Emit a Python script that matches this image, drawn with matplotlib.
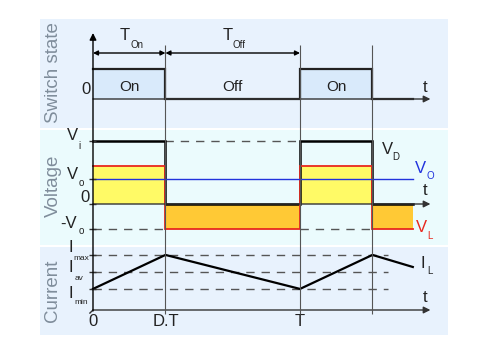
import matplotlib
matplotlib.use("Agg")
import matplotlib.pyplot as plt
import numpy as np

plt.rcParams['font.family'] = ['Liberation Sans', 'DejaVu Sans']

# ---- data ----
D = 0.35            # duty cycle (fraction of period T)
T_END = 1.545       # end of drawn waveforms (in periods)
T_ARROW = 1.63      # end of time axis arrow
VI = 1.0
VO = 0.4
IMIN, IAV, IMAX = 0.62, 1.12, 1.62
I_END = 1.265

switch_t = [0, D, D, 1, 1, 1 + D, 1 + D, T_END]
switch_v = [1, 1, 0, 0, 1, 1, 0, 0]
vd_t = [0, D, D, 1, 1, 1 + D, 1 + D, T_END]
vd_v = [VI, VI, 0, 0, VI, VI, 0, 0]
vl_t = [0, D, D, 1, 1, 1 + D, 1 + D, T_END]
vl_v = [VI - VO, VI - VO, -VO, -VO, VI - VO, VI - VO, -VO, -VO]
vo_t = [0, T_END]
vo_v = [VO, VO]
il_t = [0, D, 1, 1 + D, T_END]
il_v = [IMIN, IMAX, IMIN, IMAX, I_END]
xtick_pos = [0, D, 1]
xtick_labels = ['0', 'D.T', 'T']
on_starts = [0, 1]
state_labels = ['On', 'Off', 'On']
state_centers = [D / 2, (D + 1) / 2, 1 + D / 2]

# ---- layout ----
W, H = 500, 354
fig = plt.figure(figsize=(W / 100, H / 100), dpi=100)
PX0, PXU = 93, 207          # pixel of t=0, pixels per period
XL = ((40 - PX0) / PXU, (448 - PX0) / PXU)

def panel(top, bottom, color, zero_px, scale):
    ax = fig.add_axes([40 / W, 1 - bottom / H, 408 / W, (bottom - top) / H])
    ax.set_facecolor(color)
    ax.set_xlim(*XL)
    ax.set_ylim(-(bottom - zero_px) / scale, (zero_px - top) / scale)
    for s in ax.spines.values():
        s.set_visible(False)
    ax.set_xticks([]); ax.set_yticks([])
    return ax

ax_s = panel(19, 128, '#e8f2fd', 99, 30)
ax_v = panel(130, 245, '#ebfbfd', 204, 63)
ax_c = panel(247, 335, '#e8f2fd', 310, 34)

DARK = '#222222'
GRID = '#555555'
ARW = dict(arrowstyle='-|>', color='#333333', lw=1.0, mutation_scale=10,
           shrinkA=0, shrinkB=0)

# switch state
for s0 in on_starts:
    ax_s.fill_between([s0, s0 + D], 0, 1, color='#d9eafb', lw=0)
ax_s.annotate('', xy=(T_ARROW, 0), xytext=(0, 0), arrowprops=ARW)
ax_s.plot(switch_t, switch_v, color=DARK, lw=1.6, solid_joinstyle='miter')
for c, lab in zip(state_centers, state_labels):
    ax_s.text(c, 0.4, lab, ha='center', va='center', fontsize=11, color=DARK)

# voltage
vl = np.array(vl_v)
ax_v.fill_between(vl_t, 0, np.clip(vl, 0, None), color='#fffa66', lw=0)
ax_v.fill_between(vl_t, 0, np.clip(vl, None, 0), color='#ffc935', lw=0)
ax_v.annotate('', xy=(T_ARROW, 0), xytext=(0, 0), arrowprops=ARW)
ax_v.plot([D, 1], [VI, VI], color=GRID, lw=1, dashes=(6, 5))
for s0 in on_starts:
    ax_v.plot([s0, s0 + D], [-VO, -VO], color=GRID, lw=1, dashes=(6, 5))
ax_v.plot(vd_t, vd_v, color='black', lw=1.8, solid_joinstyle='miter')
ax_v.plot(vl_t, vl_v, color='#e8281e', lw=1.3, solid_joinstyle='miter')
ax_v.plot(vo_t, vo_v, color='#2233dd', lw=1.0)
ax_v.hlines([VI, VO, 0, -VO], -0.02, 0.015, color='#333333', lw=1)

# current
ax_c.annotate('', xy=(T_ARROW, 0), xytext=(0, 0), arrowprops=ARW)
for lvl in [IMIN, IAV, IMAX]:
    ax_c.plot([0, 1.425], [lvl, lvl], color=GRID, lw=1, dashes=(6, 5))
ax_c.plot(il_t, il_v, color='black', lw=1.6)
ax_c.hlines([IMIN, IAV, IMAX], -0.02, 0.015, color='#333333', lw=1)
ax_c.plot([0, -0.015], [0, -0.09], color='#333333', lw=1)
for p, lab in zip(xtick_pos, xtick_labels):
    ax_c.text(p, -0.35, lab, ha='center', va='center', fontsize=12, color=DARK)

# overlay for lines crossing panels
ov = fig.add_axes([0, 0, 1, 1])
ov.patch.set_alpha(0)
ov.set_xlim(-PX0 / PXU, (W - PX0) / PXU)
ov.set_ylim(H, 0)
ov.axis('off')
ov.vlines([D, 1, 1 + D], 45, 314, color=GRID, lw=0.8)
ov.annotate('', xy=(0, 33), xytext=(0, 311),
            arrowprops=dict(arrowstyle='-|>', color='black', lw=1.0,
                            mutation_scale=10, shrinkA=0, shrinkB=0))
DA = dict(arrowstyle='<|-|>', color='black', lw=1.0, mutation_scale=7,
          shrinkA=0, shrinkB=0)
ov.annotate('', xy=(0, 53), xytext=(D, 53), arrowprops=DA)
ov.annotate('', xy=(D, 53), xytext=(1, 53), arrowprops=DA)

def txt(x, y, s, size=12, color=DARK, **kw):
    fig.text(x / W, 1 - y / H, s, ha=kw.pop('ha', 'center'),
             va=kw.pop('va', 'center'), fontsize=size, color=color, **kw)

SIDE = '#7f8d9b'
txt(53, 73, 'Switch state', size=13.5, color=SIDE, rotation=90)
txt(53, 186, 'Voltage', size=13.5, color=SIDE, rotation=90)
txt(53, 291, 'Current', size=13.5, color=SIDE, rotation=90)

# top labels
txt(125, 35, 'T'); txt(137, 45, 'On', size=7)
txt(228, 35, 'T'); txt(239, 45, 'Off', size=7)
txt(86, 90, '0')
txt(425, 88, 't')
# voltage labels
txt(72, 135, 'V'); txt(79, 146, 'i', size=7)
txt(72, 175, 'V'); txt(81, 183, 'o', size=7)
txt(85, 197, '0')
txt(69, 223, '-V'); txt(81, 231, 'o', size=7)
txt(387, 149, 'V'); txt(396, 157, 'D', size=7)
txt(420, 168, 'V', color='#2233dd'); txt(430, 176, 'O', size=7, color='#2233dd')
txt(425, 190, 't')
txt(421, 228, 'V', color='#e8281e'); txt(430, 236, 'L', size=7, color='#e8281e')
# current labels
txt(71, 248, 'I'); txt(81, 258, 'max', size=6)
txt(71, 267, 'I'); txt(79, 279, 'av', size=6)
txt(71, 294, 'I'); txt(81, 302, 'min', size=6)
txt(423, 263, 'I'); txt(430, 271, 'L', size=7)
txt(425, 297, 't')

fig.savefig('out.png', dpi=100)
